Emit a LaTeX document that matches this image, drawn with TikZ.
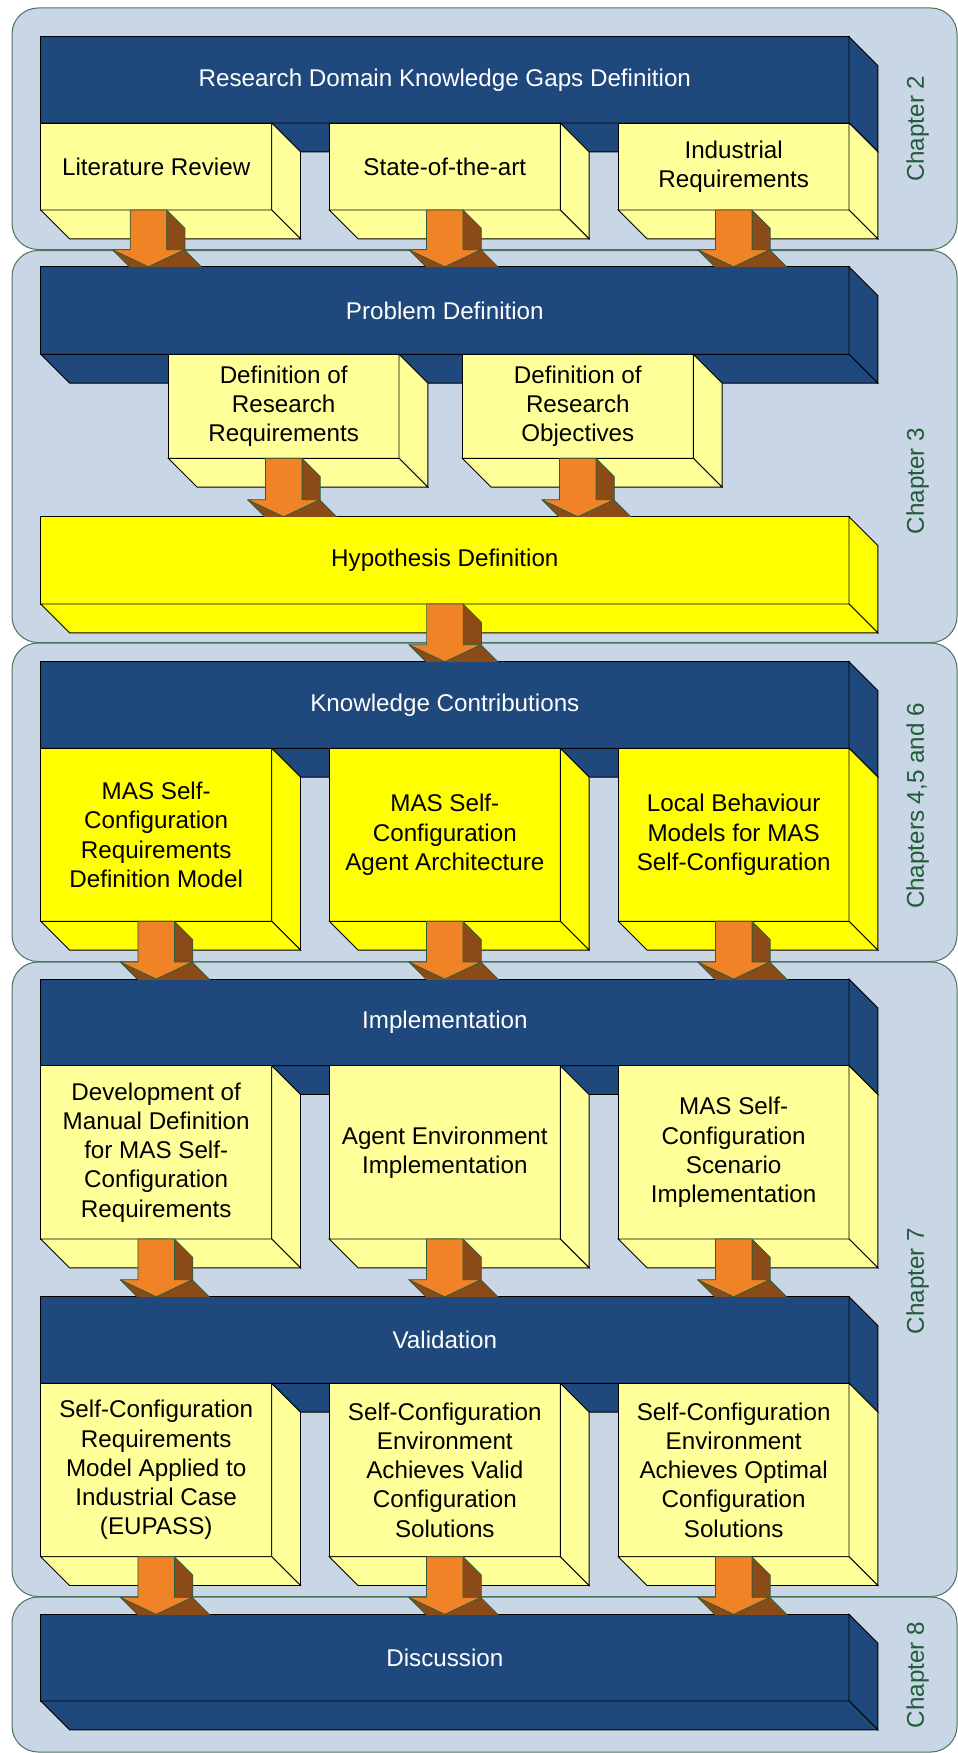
\documentclass[tikz,border=0pt]{standalone}
\usepackage{fontspec}
\setmainfont{Liberation Sans}
\usetikzlibrary{calc}
\definecolor{panelfill}{HTML}{C9D6E5}
\definecolor{paneledge}{HTML}{4A7360}
\definecolor{hdrblue}{HTML}{1F487C}
\definecolor{lightyel}{HTML}{FFFF99}
\definecolor{brightyel}{HTML}{FFFF00}
\definecolor{arrorange}{HTML}{F08326}
\definecolor{arrbrown}{HTML}{8B4B18}
\definecolor{arredge}{HTML}{2E5B3C}
\definecolor{chapgreen}{HTML}{215C3A}

\newcommand{\txtfont}{\fontsize{24.2pt}{29.2pt}\selectfont}
\def\dd{28.8}
\def\aw{18.25}
\def\ah{36}
\def\ahh{17}
\def\ad{18.3}

\tikzset{
 panel/.style={fill=panelfill, draw=paneledge, line width=1pt, rounded corners=26pt},
 hdr/.style={fill=hdrblue, draw=black, line width=0.9pt, text=white},
 lbox/.style={fill=lightyel, draw=black, line width=0.9pt, text=black},
 ybox/.style={fill=brightyel, draw=black, line width=0.9pt, text=black},
 arrfront/.style={fill=arrorange, draw=arredge, line width=0.7pt, line join=round},
 arrside/.style={fill=arrbrown, draw=arredge, line width=0.7pt, line join=round},
 chap/.style={rotate=90, text=chapgreen, font=\txtfont, inner sep=0pt},
}

\newcommand{\cuboid}[7]{%
  \node[#6, font=\txtfont, align=center, inner sep=0pt, outer sep=0pt,
        minimum width={#4-#2}, minimum height={#5-#3}, anchor=north west] (#1) at (#2,#3) {#7};
  \filldraw[#6] (#1.north east) -- ++(\dd,\dd) -- ($(#1.south east)+(\dd,\dd)$) -- (#1.south east) -- cycle;
  \filldraw[#6] (#1.south west) -- (#1.south east) -- ++(\dd,\dd) -- ($(#1.south west)+(\dd,\dd)$) -- cycle;
}

\newcommand{\blockarrow}[3]{%
 \begin{scope}
  \coordinate (T) at ($(#1.south)+(#3,0)$);
  \coordinate (E) at (T |- #2.north);
  \clip ($(#2.north west)+(-100,-2000)$) rectangle ($(#2.north east)+(100,0)$);
  \filldraw[arrside] ($(T)+(\aw,0)$) -- ($(E)+(\aw,-\ahh)$) -- ($(E)+(\aw+\ad,-\ahh+\ad)$) -- ($(T)+(\aw+\ad,\ad)$) -- cycle;
  \filldraw[arrside] ($(E)+(\ah,-\ahh)$) -- (E) -- ($(E)+(\ad,\ad)$) -- ($(E)+(\ah+\ad,-\ahh+\ad)$) -- cycle;
  \filldraw[arrside] (E) -- ($(E)+(-\ah,-\ahh)$) -- ($(E)+(-\ah+\ad,-\ahh+\ad)$) -- ($(E)+(\ad,\ad)$) -- cycle;
  \filldraw[arrfront] ($(T)+(-\aw,0)$) -- ($(T)+(\aw,0)$) -- ($(E)+(\aw,-\ahh)$) -- ($(E)+(\ah,-\ahh)$) -- (E) -- ($(E)+(-\ah,-\ahh)$) -- ($(E)+(-\aw,-\ahh)$) -- cycle;
 \end{scope}}

\begin{document}
\begin{tikzpicture}[x=1pt,y=-1pt]
\useasboundingbox (0,0) rectangle (958,1753);
% panels
\draw[panel] (12,8) rectangle (957,249.5);
\draw[panel] (12,250.5) rectangle (957,642.5);
\draw[panel] (12,643) rectangle (957,961.5);
\draw[panel] (12,962) rectangle (957,1596.5);
\draw[panel] (12,1597) rectangle (957,1752);

% chapter 2
\cuboid{h1}{40.7}{36.7}{849}{123}{hdr}{Research Domain Knowledge Gaps Definition}
\cuboid{b11}{40.7}{123}{271.7}{210}{lbox}{Literature Review}
\cuboid{b12}{329.3}{123}{560.3}{210}{lbox}{State-of-the-art}
\cuboid{b13}{618.3}{123}{849}{210}{lbox}{Industrial\\Requirements}
% chapter 3
\cuboid{h2}{40.7}{266.7}{849}{354.3}{hdr}{Problem Definition}
\cuboid{b21}{168.3}{354.3}{399}{458.3}{lbox}{Definition of\\Research\\Requirements}
\cuboid{b22}{462.3}{354.3}{693.3}{458.3}{lbox}{Definition of\\Research\\Objectives}
\cuboid{hyp}{40.7}{516.7}{849}{604}{ybox}{Hypothesis Definition}
% chapters 4,5,6
\cuboid{h3}{40.7}{661.7}{849}{748.3}{hdr}{Knowledge Contributions}
\cuboid{b31}{40.7}{748.3}{271.7}{921.3}{ybox}{MAS Self-\\Configuration\\Requirements\\Definition Model}
\cuboid{b32}{329.3}{748.3}{560.3}{921.3}{ybox}{MAS Self-\\Configuration\\Agent Architecture}
\cuboid{b33}{618.3}{748.3}{849}{921.3}{ybox}{Local Behaviour\\Models for MAS\\Self-Configuration}
% chapter 7
\cuboid{h4}{40.7}{979}{849}{1065.7}{hdr}{Implementation}
\cuboid{b41}{40.7}{1065.7}{271.7}{1239}{lbox}{Development of\\Manual Definition\\for MAS Self-\\Configuration\\Requirements}
\cuboid{b42}{329.3}{1065.7}{560.3}{1239}{lbox}{Agent Environment\\Implementation}
\cuboid{b43}{618.3}{1065.7}{849}{1239}{lbox}{MAS Self-\\Configuration\\Scenario\\Implementation}
\cuboid{h5}{40.7}{1296.7}{849}{1383.3}{hdr}{Validation}
\cuboid{b51}{40.7}{1383.3}{271.7}{1556.7}{lbox}{Self-Configuration\\Requirements\\Model Applied to\\Industrial Case\\(EUPASS)}
\cuboid{b52}{329.3}{1383.3}{560.3}{1556.7}{lbox}{Self-Configuration\\Environment\\Achieves Valid\\Configuration\\Solutions}
\cuboid{b53}{618.3}{1383.3}{849}{1556.7}{lbox}{Self-Configuration\\Environment\\Achieves Optimal\\Configuration\\Solutions}
% chapter 8
\cuboid{h6}{40.7}{1614.3}{849}{1701}{hdr}{Discussion}

% arrows
\blockarrow{b11}{h2}{-7.8}
\blockarrow{b12}{h2}{0}
\blockarrow{b13}{h2}{0}
\blockarrow{b21}{hyp}{0}
\blockarrow{b22}{hyp}{0}
\blockarrow{hyp}{h3}{0}
\blockarrow{b31}{h4}{0}
\blockarrow{b32}{h4}{0}
\blockarrow{b33}{h4}{0}
\blockarrow{b41}{h5}{0}
\blockarrow{b42}{h5}{0}
\blockarrow{b43}{h5}{0}
\blockarrow{b51}{h6}{0}
\blockarrow{b52}{h6}{0}
\blockarrow{b53}{h6}{0}

% chapter labels
\node[chap] (ch2) at (917.7,128.8) {Chapter 2};
\node[chap] (ch3) at (917.7,481) {Chapter 3};
\node[chap] (ch456) at (917.7,806) {Chapters 4,5 and 6};
\node[chap] (ch7) at (917.7,1281) {Chapter 7};
\node[chap] (ch8) at (917.7,1675) {Chapter 8};
\end{tikzpicture}
\end{document}
